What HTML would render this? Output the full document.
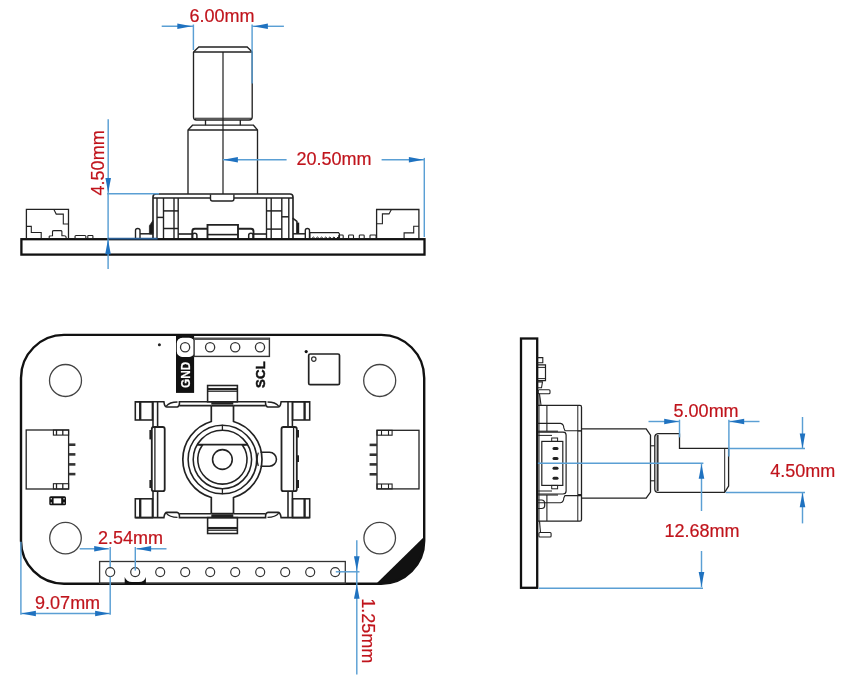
<!DOCTYPE html>
<html><head><meta charset="utf-8"><style>
html,body{margin:0;padding:0;background:#fff;}
svg{display:block;will-change:transform;}
text{font-family:"Liberation Sans", sans-serif;}
</style></head><body>
<svg width="850" height="685" viewBox="0 0 850 685">
<rect width="850" height="685" fill="#fff"/>
<path d="M193.5,52 L198.8,47 L247.2,47 L252.2,52" stroke="#222" stroke-width="1.34" fill="none"/>
<path d="M193.5,52 L193.5,117 Q193.5,120 196.5,120 L249.2,120 Q252.2,120 252.2,117 L252.2,52" stroke="#222" stroke-width="1.34" fill="none"/>
<line x1="193.5" y1="52" x2="252.2" y2="52" stroke="#222" stroke-width="1.34"/>
<line x1="195" y1="118.3" x2="251" y2="118.3" stroke="#222" stroke-width="1.12"/>
<line x1="205.5" y1="120" x2="205.5" y2="125.2" stroke="#222" stroke-width="1.34"/>
<line x1="240.3" y1="120" x2="240.3" y2="125.2" stroke="#222" stroke-width="1.34"/>
<path d="M188,194 L188,130 L192.5,125.2 L253.5,125.2 L257.5,130 L257.5,194" stroke="#222" stroke-width="1.34" fill="none"/>
<line x1="188" y1="130" x2="257.5" y2="130" stroke="#222" stroke-width="1.34"/>
<line x1="223" y1="52" x2="223" y2="194" stroke="#222" stroke-width="1.23"/>
<path d="M153,238.5 L153,197 Q153,194 156,194 L290,194 Q293,194 293,197 L293,238.5" stroke="#222" stroke-width="1.62" fill="none"/>
<line x1="153" y1="198" x2="210.5" y2="198" stroke="#222" stroke-width="1.5"/>
<line x1="233.9" y1="198" x2="293" y2="198" stroke="#222" stroke-width="1.5"/>
<path d="M210.5,194.4 L210.5,199 Q210.5,201 212.5,201 L231.9,201 Q233.9,201 233.9,199 L233.9,194.4" stroke="#222" stroke-width="1.38" fill="none"/>
<line x1="157" y1="198" x2="157" y2="238.5" stroke="#222" stroke-width="1.38"/>
<line x1="163.5" y1="198" x2="163.5" y2="238.5" stroke="#222" stroke-width="1.38"/>
<line x1="174" y1="198" x2="174" y2="238.5" stroke="#222" stroke-width="1.38"/>
<line x1="178.2" y1="198" x2="178.2" y2="238.5" stroke="#222" stroke-width="1.38"/>
<line x1="266.5" y1="198" x2="266.5" y2="238.5" stroke="#222" stroke-width="1.38"/>
<line x1="271.2" y1="198" x2="271.2" y2="238.5" stroke="#222" stroke-width="1.38"/>
<line x1="281.8" y1="198" x2="281.8" y2="238.5" stroke="#222" stroke-width="1.38"/>
<line x1="288.8" y1="198" x2="288.8" y2="238.5" stroke="#222" stroke-width="1.38"/>
<line x1="163.5" y1="210.9" x2="178.2" y2="210.9" stroke="#222" stroke-width="1.5"/>
<line x1="163.5" y1="228.5" x2="178.2" y2="228.5" stroke="#222" stroke-width="1.5"/>
<line x1="157" y1="217.4" x2="163.5" y2="217.4" stroke="#222" stroke-width="1.5"/>
<line x1="266.5" y1="210.9" x2="281.8" y2="210.9" stroke="#222" stroke-width="1.5"/>
<line x1="266.5" y1="229.1" x2="281.8" y2="229.1" stroke="#222" stroke-width="1.5"/>
<line x1="281.8" y1="216.8" x2="288.8" y2="216.8" stroke="#222" stroke-width="1.5"/>
<path d="M153,220.4 L149.4,225.7 L149.4,234 L153,234 Z" stroke="#222" stroke-width="0.75" fill="#1a1a1a"/>
<path d="M292.7,218.1 L296.9,221.3 L296.9,234" stroke="#222" stroke-width="1.5" fill="none"/>
<rect x="296.9" y="222.6" width="2.3" height="11.4" rx="0" fill="#1a1a1a"/>
<line x1="140" y1="233.8" x2="153" y2="233.8" stroke="#222" stroke-width="1.5"/>
<line x1="293" y1="233.8" x2="305.3" y2="233.8" stroke="#222" stroke-width="1.5"/>
<path d="M135.5,238.5 L135.5,230.5 Q135.5,228.5 137.7,228.5 Q140,228.5 140,230.5 L140,238.5" stroke="#222" stroke-width="1.38" fill="none"/>
<path d="M305.3,238.5 L305.3,230.5 Q305.3,228.5 307.4,228.5 Q309.5,228.5 309.5,230.5 L309.5,238.5" stroke="#222" stroke-width="1.38" fill="none"/>
<line x1="178.2" y1="234" x2="192.3" y2="234" stroke="#222" stroke-width="1.62"/>
<path d="M192.3,238.5 L192.3,231.2 Q192.3,228.7 194.8,228.7 L207.5,228.7" stroke="#222" stroke-width="1.88" fill="none"/>
<path d="M207.5,238.5 L207.5,224.9 L238,224.9 L238,238.5" stroke="#222" stroke-width="1.88" fill="none"/>
<path d="M238,228.7 L251,228.7 Q253.5,228.7 253.5,231.2 L253.5,238.5" stroke="#222" stroke-width="1.88" fill="none"/>
<line x1="207.5" y1="234.6" x2="238" y2="234.6" stroke="#222" stroke-width="1.62"/>
<path d="M192.5,238.5 L192.5,235.2 Q192.5,233.2 194.7,233.2 Q196.9,233.2 196.9,235.2 L196.9,238.5" stroke="#222" stroke-width="1.5" fill="none"/>
<path d="M248.7,238.5 L248.7,235.2 Q248.7,233.2 250.9,233.2 Q253.1,233.2 253.1,235.2 L253.1,238.5" stroke="#222" stroke-width="1.5" fill="none"/>
<line x1="253.5" y1="234" x2="266.5" y2="234" stroke="#222" stroke-width="1.62"/>
<rect x="21.4" y="239.2" width="403.1" height="15.4" rx="0" stroke="#111" stroke-width="2.3" fill="none"/>
<path d="M26.4,238.5 L26.4,209.4 L68.5,209.4 L68.5,238.5" stroke="#222" stroke-width="1.3" fill="none"/>
<path d="M53.9,209.4 L56.2,214.1 L63.3,214.1 L63.3,224 L68.5,224" stroke="#222" stroke-width="1.1" fill="none"/>
<path d="M26.4,226.4 L31.3,226.4 L31.3,232.5 L41.2,232.5 L41.2,238.5" stroke="#222" stroke-width="1.1" fill="none"/>
<path d="M49.2,238.5 L49.2,236.5 Q49.2,235.8 52,235.8 L52.5,235.8 L52.5,231.5 Q52.5,230.6 54,230.6 L60.5,230.6 Q61.9,230.6 61.9,231.5 L61.9,235.8 L64,235.8 Q66.1,235.8 66.1,237 L66.1,238.5" stroke="#222" stroke-width="1.1" fill="none"/>
<rect x="75" y="235.5" width="10.9" height="3.0" rx="1" stroke="#222" stroke-width="1.1" fill="none"/>
<rect x="87.8" y="235.5" width="5.1" height="3.0" rx="0.5" stroke="#222" stroke-width="1.1" fill="none"/>
<path d="M376.6,238.5 L376.6,209.5 L418.9,209.5 L418.9,238.5" stroke="#222" stroke-width="1.3" fill="none"/>
<path d="M391.4,209.5 L389,213.9 L382.4,213.9 L382.4,223.8 L376.6,223.8" stroke="#222" stroke-width="1.1" fill="none"/>
<path d="M418.9,226.3 L413.7,226.3 L413.7,232.9 L404.1,232.9 L404.1,238.5" stroke="#222" stroke-width="1.1" fill="none"/>
<path d="M309.9,238.5 L309.9,232.6 L338.5,232.6 L339.5,234 L339.5,238.5" stroke="#222" stroke-width="1.1" fill="none"/>
<path d="M311.8,238.5 Q313.4,235.6 315.0,238.5" stroke="#222" stroke-width="1.0" fill="none"/>
<path d="M315.9,238.5 Q317.5,235.6 319.1,238.5" stroke="#222" stroke-width="1.0" fill="none"/>
<path d="M320.0,238.5 Q321.6,235.6 323.2,238.5" stroke="#222" stroke-width="1.0" fill="none"/>
<path d="M324.1,238.5 Q325.7,235.6 327.3,238.5" stroke="#222" stroke-width="1.0" fill="none"/>
<path d="M328.2,238.5 Q329.8,235.6 331.4,238.5" stroke="#222" stroke-width="1.0" fill="none"/>
<path d="M332.3,238.5 Q333.9,235.6 335.5,238.5" stroke="#222" stroke-width="1.0" fill="none"/>
<path d="M336.4,238.5 Q338.0,235.6 339.6,238.5" stroke="#222" stroke-width="1.0" fill="none"/>
<rect x="338.7" y="235" width="4.5" height="3.5" rx="0.8" stroke="#222" stroke-width="1.1" fill="none"/>
<rect x="348.6" y="235" width="4.9" height="3.5" rx="0.8" stroke="#222" stroke-width="1.1" fill="none"/>
<rect x="359.3" y="235" width="4.9" height="3.5" rx="0.8" stroke="#222" stroke-width="1.1" fill="none"/>
<rect x="370" y="235" width="6.1" height="3.5" rx="0.8" stroke="#222" stroke-width="1.1" fill="none"/>
<line x1="161.7" y1="26.3" x2="193.4" y2="26.3" stroke="#5a9fd4" stroke-width="1.45"/>
<polygon points="177.3,23.5 191.9,26.3 177.3,29.1" fill="#1f72c0"/>
<line x1="252" y1="26.3" x2="283.9" y2="26.3" stroke="#5a9fd4" stroke-width="1.45"/>
<polygon points="267.90000000000003,23.5 253.3,26.3 267.90000000000003,29.1" fill="#1f72c0"/>
<line x1="193.4" y1="24.5" x2="193.4" y2="50" stroke="#5a9fd4" stroke-width="1.45"/>
<line x1="252.1" y1="24.5" x2="252.1" y2="83.4" stroke="#5a9fd4" stroke-width="1.45"/>
<text x="189.5" y="21.6" font-size="18" fill="#c0141c" stroke="#c0141c" stroke-width="0.2" font-weight="normal" text-anchor="start">6.00mm</text>
<line x1="108.2" y1="119.2" x2="108.2" y2="193.6" stroke="#5a9fd4" stroke-width="1.45"/>
<polygon points="105.4,178.0 108.2,192.6 111.0,178.0" fill="#1f72c0"/>
<line x1="107.2" y1="193.8" x2="159" y2="193.8" stroke="#5a9fd4" stroke-width="1.45"/>
<line x1="108.1" y1="193" x2="108.1" y2="269.1" stroke="#5a9fd4" stroke-width="1.45"/>
<polygon points="105.2,254.2 108,239.6 110.8,254.2" fill="#1f72c0"/>
<line x1="108" y1="238.6" x2="157.6" y2="238.6" stroke="#2b5f96" stroke-width="1.6"/>
<text x="104.0" y="195.4" font-size="18" fill="#c0141c" stroke="#c0141c" stroke-width="0.2" font-weight="normal" text-anchor="start" transform="rotate(-90 104.0 195.4)">4.50mm</text>
<line x1="222.8" y1="159.8" x2="286.6" y2="159.8" stroke="#5a9fd4" stroke-width="1.45"/>
<polygon points="237.9,157.0 223.3,159.8 237.9,162.60000000000002" fill="#1f72c0"/>
<line x1="381.6" y1="159.8" x2="424" y2="159.8" stroke="#5a9fd4" stroke-width="1.45"/>
<polygon points="408.9,157.0 423.5,159.8 408.9,162.60000000000002" fill="#1f72c0"/>
<line x1="424.3" y1="157.9" x2="424.3" y2="237" stroke="#5a9fd4" stroke-width="1.45"/>
<text x="296.4" y="165.4" font-size="18" fill="#c0141c" stroke="#c0141c" stroke-width="0.2" font-weight="normal" text-anchor="start">20.50mm</text>
<path d="M376.5,583.4 L381.2,583.4 A43,43 0 0 0 424.2,540.4 L424.2,536.7 Z" fill="#111"/>
<rect x="21" y="334.9" width="403.2" height="248.9" rx="43" stroke="#111" stroke-width="2.4" fill="none"/>
<circle cx="65.5" cy="380.5" r="16" stroke="#444" stroke-width="1.3" fill="none"/>
<circle cx="379.7" cy="380.5" r="16" stroke="#444" stroke-width="1.3" fill="none"/>
<circle cx="65.5" cy="538.1" r="15.8" stroke="#444" stroke-width="1.3" fill="none"/>
<circle cx="379.7" cy="538.1" r="15.8" stroke="#444" stroke-width="1.3" fill="none"/>
<rect x="176" y="334.9" width="18.1" height="58.0" rx="0" fill="#111"/>
<rect x="177.4" y="338.3" width="16.7" height="18.1" rx="5" stroke="#fff" stroke-width="1.2" fill="#fff"/>
<circle cx="185.1" cy="347.2" r="4.6" stroke="#333" stroke-width="1.3" fill="none"/>
<rect x="194.1" y="338.3" width="75.3" height="18.1" rx="0" stroke="#333" stroke-width="1.4" fill="none"/>
<line x1="194.1" y1="339" x2="269.4" y2="339" stroke="#555" stroke-width="2.0"/>
<circle cx="210.1" cy="347.2" r="4.6" stroke="#333" stroke-width="1.3" fill="none"/>
<circle cx="235.2" cy="347.2" r="4.6" stroke="#333" stroke-width="1.3" fill="none"/>
<circle cx="260.0" cy="347.2" r="4.6" stroke="#333" stroke-width="1.3" fill="none"/>
<circle cx="159.4" cy="344.8" r="1.5" stroke="#222" stroke-width="0.0" fill="#222"/>
<text x="190.4" y="387.9" font-size="13.4" fill="#fff" stroke="#fff" stroke-width="0.2" font-weight="bold" text-anchor="start" transform="rotate(-90 190.4 387.9)" textLength="26.2" lengthAdjust="spacingAndGlyphs">GND</text>
<text x="265.2" y="387.9" font-size="13.6" fill="#111" stroke="#111" stroke-width="0.5" font-weight="bold" text-anchor="start" transform="rotate(-90 265.2 387.9)" textLength="26.4" lengthAdjust="spacingAndGlyphs">SCL</text>
<rect x="308.7" y="354" width="30.8" height="30.7" rx="1.5" stroke="#222" stroke-width="1.7" fill="none"/>
<circle cx="313.8" cy="359.1" r="2.2" stroke="#333" stroke-width="1.2" fill="none"/>
<circle cx="306.2" cy="351.6" r="1.6" stroke="#222" stroke-width="0.0" fill="#111"/>
<rect x="26.2" y="430" width="42.4" height="59" rx="0" stroke="#222" stroke-width="1.3" fill="none"/>
<rect x="53.4" y="430" width="15.2" height="5.1" rx="0" stroke="#222" stroke-width="1.1" fill="none"/>
<line x1="56.5" y1="430" x2="56.5" y2="435.1" stroke="#222" stroke-width="1.3"/>
<line x1="62.8" y1="430" x2="62.8" y2="435.1" stroke="#222" stroke-width="1.3"/>
<rect x="53.4" y="483.7" width="15.2" height="5.3" rx="0" stroke="#222" stroke-width="1.1" fill="none"/>
<line x1="56.5" y1="483.7" x2="56.5" y2="489" stroke="#222" stroke-width="1.3"/>
<line x1="62.8" y1="483.7" x2="62.8" y2="489" stroke="#222" stroke-width="1.3"/>
<line x1="68.6" y1="444.7" x2="75.4" y2="444.7" stroke="#333" stroke-width="2.6"/>
<line x1="68.6" y1="454.4" x2="75.4" y2="454.4" stroke="#333" stroke-width="2.6"/>
<line x1="68.6" y1="464.4" x2="75.4" y2="464.4" stroke="#333" stroke-width="2.6"/>
<line x1="68.6" y1="474.1" x2="75.4" y2="474.1" stroke="#333" stroke-width="2.6"/>
<rect x="49.3" y="496.3" width="16.7" height="9.0" rx="1.5" fill="#111"/>
<rect x="53.6" y="498.3" width="7.6" height="5.2" rx="0" fill="#fff"/>
<circle cx="51.3" cy="498.7" r="0.8" stroke="#222" stroke-width="0.0" fill="#ddd"/>
<circle cx="51.3" cy="503" r="0.8" stroke="#222" stroke-width="0.0" fill="#ddd"/>
<circle cx="64" cy="498.7" r="0.8" stroke="#222" stroke-width="0.0" fill="#ddd"/>
<circle cx="64" cy="503" r="0.8" stroke="#222" stroke-width="0.0" fill="#ddd"/>
<rect x="377" y="430.3" width="42" height="58.6" rx="0" stroke="#222" stroke-width="1.3" fill="none"/>
<rect x="377" y="430.3" width="15.1" height="4.9" rx="0" stroke="#222" stroke-width="1.1" fill="none"/>
<line x1="381.5" y1="430.3" x2="381.5" y2="435.2" stroke="#222" stroke-width="1.1"/>
<line x1="388.5" y1="430.3" x2="388.5" y2="435.2" stroke="#222" stroke-width="1.1"/>
<rect x="377" y="484" width="15.1" height="4.9" rx="0" stroke="#222" stroke-width="1.1" fill="none"/>
<line x1="381.5" y1="484" x2="381.5" y2="488.9" stroke="#222" stroke-width="1.1"/>
<line x1="388.5" y1="484" x2="388.5" y2="488.9" stroke="#222" stroke-width="1.1"/>
<line x1="369.6" y1="444.9" x2="377" y2="444.9" stroke="#333" stroke-width="2.6"/>
<line x1="369.6" y1="454.7" x2="377" y2="454.7" stroke="#333" stroke-width="2.6"/>
<line x1="369.6" y1="464.4" x2="377" y2="464.4" stroke="#333" stroke-width="2.6"/>
<line x1="369.6" y1="474.3" x2="377" y2="474.3" stroke="#333" stroke-width="2.6"/>
<rect x="99.6" y="561.5" width="245.7" height="21.9" rx="0" stroke="#333" stroke-width="1.3" fill="none"/>
<circle cx="110.2" cy="572.1" r="4.5" stroke="#333" stroke-width="1.2" fill="none"/>
<circle cx="135.2" cy="572.1" r="4.5" stroke="#333" stroke-width="1.2" fill="none"/>
<circle cx="160.2" cy="572.1" r="4.5" stroke="#333" stroke-width="1.2" fill="none"/>
<circle cx="185.2" cy="572.1" r="4.5" stroke="#333" stroke-width="1.2" fill="none"/>
<circle cx="210.2" cy="572.1" r="4.5" stroke="#333" stroke-width="1.2" fill="none"/>
<circle cx="235.2" cy="572.1" r="4.5" stroke="#333" stroke-width="1.2" fill="none"/>
<circle cx="260.2" cy="572.1" r="4.5" stroke="#333" stroke-width="1.2" fill="none"/>
<circle cx="285.2" cy="572.1" r="4.5" stroke="#333" stroke-width="1.2" fill="none"/>
<circle cx="310.2" cy="572.1" r="4.5" stroke="#333" stroke-width="1.2" fill="none"/>
<circle cx="335.2" cy="572.1" r="4.5" stroke="#333" stroke-width="1.2" fill="none"/>
<path d="M124.7,577 Q126.5,582 132,582 L139,582 Q144.5,582 145.9,577 L145.9,584 L124.7,584 Z" fill="#111"/>
<rect x="207.6" y="385.5" width="29.8" height="16.3" rx="0" stroke="#222" stroke-width="1.56" fill="none"/>
<line x1="207.6" y1="389" x2="237.4" y2="389" stroke="#222" stroke-width="2.08"/>
<line x1="207.6" y1="391.2" x2="237.4" y2="391.2" stroke="#222" stroke-width="1.3"/>
<rect x="207.6" y="517.6" width="29.8" height="15.9" rx="0" stroke="#222" stroke-width="1.56" fill="none"/>
<line x1="207.6" y1="528" x2="237.4" y2="528" stroke="#222" stroke-width="2.08"/>
<line x1="207.6" y1="530.2" x2="237.4" y2="530.2" stroke="#222" stroke-width="1.3"/>
<path d="M135.3,401.8 L163.9,401.8 Q164.6,407.0 167,407.0 L177.3,407.0 Q179.4,406.40000000000003 179.4,403.8 L179.4,401.8 L265.6,401.8 L265.6,403.8 Q265.6,406.40000000000003 267.7,407.0 L278,407.0 Q280.4,407.0 281.1,401.8 L309.7,401.8" stroke="#222" stroke-width="1.56" fill="none"/>
<path d="M166.3,406.2 Q169.5,402.0 177.5,402.0" stroke="#222" stroke-width="1.3" fill="none"/>
<path d="M278.7,406.2 Q275.5,402.0 267.5,402.0" stroke="#222" stroke-width="1.3" fill="none"/>
<line x1="179.4" y1="405.6" x2="211.3" y2="405.6" stroke="#222" stroke-width="1.56"/>
<line x1="233.3" y1="405.6" x2="265.6" y2="405.6" stroke="#222" stroke-width="1.56"/>
<line x1="211.3" y1="403.3" x2="233.3" y2="403.3" stroke="#222" stroke-width="2.34"/>
<line x1="211.3" y1="405.6" x2="233.3" y2="405.6" stroke="#222" stroke-width="2.08"/>
<path d="M135.3,517.6 L163.9,517.6 Q164.6,512.4 167,512.4 L177.3,512.4 Q179.4,513.0 179.4,515.6 L179.4,517.6 L265.6,517.6 L265.6,515.6 Q265.6,513.0 267.7,512.4 L278,512.4 Q280.4,512.4 281.1,517.6 L309.7,517.6" stroke="#222" stroke-width="1.56" fill="none"/>
<path d="M166.3,513.2 Q169.5,517.4 177.5,517.4" stroke="#222" stroke-width="1.3" fill="none"/>
<path d="M278.7,513.2 Q275.5,517.4 267.5,517.4" stroke="#222" stroke-width="1.3" fill="none"/>
<line x1="179.4" y1="513.8" x2="211.3" y2="513.8" stroke="#222" stroke-width="1.56"/>
<line x1="233.3" y1="513.8" x2="265.6" y2="513.8" stroke="#222" stroke-width="1.56"/>
<line x1="211.3" y1="516.1" x2="233.3" y2="516.1" stroke="#222" stroke-width="2.34"/>
<line x1="211.3" y1="513.8" x2="233.3" y2="513.8" stroke="#222" stroke-width="2.08"/>
<rect x="135.3" y="401.8" width="17.1" height="18.2" rx="0" stroke="#222" stroke-width="1.56" fill="none"/>
<line x1="140.2" y1="401.8" x2="140.2" y2="420" stroke="#222" stroke-width="2.34"/>
<rect x="292.6" y="401.8" width="17.1" height="18.2" rx="0" stroke="#222" stroke-width="1.56" fill="none"/>
<line x1="304.6" y1="401.8" x2="304.6" y2="420" stroke="#222" stroke-width="2.34"/>
<rect x="135.3" y="498.8" width="17.1" height="18.8" rx="0" stroke="#222" stroke-width="1.56" fill="none"/>
<line x1="140.2" y1="498.8" x2="140.2" y2="517.6" stroke="#222" stroke-width="2.34"/>
<rect x="292.6" y="498.8" width="17.1" height="18.8" rx="0" stroke="#222" stroke-width="1.56" fill="none"/>
<line x1="304.6" y1="498.8" x2="304.6" y2="517.6" stroke="#222" stroke-width="2.34"/>
<line x1="153" y1="401.8" x2="153" y2="427" stroke="#222" stroke-width="1.56"/>
<line x1="157.6" y1="401.8" x2="157.6" y2="427" stroke="#222" stroke-width="1.56"/>
<line x1="288" y1="401.8" x2="288" y2="427" stroke="#222" stroke-width="1.56"/>
<line x1="292.4" y1="401.8" x2="292.4" y2="427" stroke="#222" stroke-width="1.56"/>
<line x1="153" y1="491.2" x2="153" y2="517.6" stroke="#222" stroke-width="1.56"/>
<line x1="157.6" y1="491.2" x2="157.6" y2="517.6" stroke="#222" stroke-width="1.56"/>
<line x1="288" y1="491.2" x2="288" y2="517.6" stroke="#222" stroke-width="1.56"/>
<line x1="292.4" y1="491.2" x2="292.4" y2="517.6" stroke="#222" stroke-width="1.56"/>
<rect x="151.8" y="427" width="12.9" height="64.2" rx="2" stroke="#222" stroke-width="1.82" fill="none"/>
<line x1="154.9" y1="427" x2="154.9" y2="491.2" stroke="#222" stroke-width="1.3"/>
<rect x="149.4" y="430" width="2.4" height="9.4" rx="0" fill="#222"/>
<rect x="149.4" y="480" width="2.4" height="8" rx="0" fill="#222"/>
<rect x="281.5" y="427" width="15.3" height="64.2" rx="2" stroke="#222" stroke-width="1.82" fill="none"/>
<line x1="293.6" y1="427" x2="293.6" y2="491.2" stroke="#222" stroke-width="1.3"/>
<rect x="296.8" y="430" width="2.2" height="7.5" rx="0" fill="#222"/>
<rect x="296.8" y="455.3" width="2.2" height="6.7" rx="0" fill="#222"/>
<rect x="296.8" y="480" width="2.2" height="8" rx="0" fill="#222"/>
<path d="M211.3,405.6 L211.3,421.49 A39.6,39.6 0 0 0 211.3,497.51 L211.3,513.8" stroke="#222" stroke-width="1.69" fill="none"/>
<path d="M233.5,405.6 L233.5,421.49 A39.6,39.6 0 0 1 233.5,497.51 L233.5,513.8" stroke="#222" stroke-width="1.69" fill="none"/>
<circle cx="222.4" cy="459.5" r="34.3" stroke="#222" stroke-width="1.56" fill="none"/>
<circle cx="222.4" cy="459.5" r="29.2" stroke="#222" stroke-width="1.56" fill="none"/>
<line x1="197.28765243948706" y1="444.6" x2="247.51234756051295" y2="444.6" stroke="#222" stroke-width="1.69"/>
<path d="M197.29,444.6 L202.31,445.3 A24.6,24.6 0 1 0 242.49,445.3 L247.51,444.6" stroke="#222" stroke-width="1.56" fill="none"/>
<circle cx="222.4" cy="459.5" r="9.85" stroke="#222" stroke-width="1.56" fill="none"/>
<line x1="222.4" y1="424.8" x2="222.4" y2="430" stroke="#222" stroke-width="1.3"/>
<line x1="222.4" y1="489" x2="222.4" y2="494.2" stroke="#222" stroke-width="1.3"/>
<path d="M260.5,452.3 L269.5,452.3 A6.95,6.95 0 0 1 269.5,466.2 L260.5,466.2" stroke="#222" stroke-width="1.56" fill="none"/>
<path d="M258.3,452.6 Q256,459.3 258.3,466" stroke="#222" stroke-width="1.3" fill="none"/>
<text x="98" y="544.1" font-size="18" fill="#c0141c" stroke="#c0141c" stroke-width="0.2" font-weight="normal" text-anchor="start">2.54mm</text>
<line x1="79.7" y1="548.8" x2="108.8" y2="548.8" stroke="#5a9fd4" stroke-width="1.45"/>
<polygon points="94.2,546.0 108.8,548.8 94.2,551.5999999999999" fill="#1f72c0"/>
<line x1="136.5" y1="548.8" x2="166.5" y2="548.8" stroke="#5a9fd4" stroke-width="1.45"/>
<polygon points="151.1,546.0 136.5,548.8 151.1,551.5999999999999" fill="#1f72c0"/>
<line x1="110.2" y1="547" x2="110.2" y2="567" stroke="#5a9fd4" stroke-width="1.45"/>
<line x1="110.2" y1="576.5" x2="110.2" y2="614.8" stroke="#5a9fd4" stroke-width="1.45"/>
<line x1="135.3" y1="547" x2="135.3" y2="570.6" stroke="#5a9fd4" stroke-width="1.45"/>
<text x="35.1" y="609.1" font-size="18" fill="#c0141c" stroke="#c0141c" stroke-width="0.2" font-weight="normal" text-anchor="start">9.07mm</text>
<line x1="21" y1="613.5" x2="110" y2="613.5" stroke="#5a9fd4" stroke-width="1.45"/>
<polygon points="35.9,610.7 21.3,613.5 35.9,616.3" fill="#1f72c0"/>
<polygon points="95.10000000000001,610.7 109.7,613.5 95.10000000000001,616.3" fill="#1f72c0"/>
<line x1="20.9" y1="541.8" x2="20.9" y2="614.8" stroke="#5a9fd4" stroke-width="1.45"/>
<line x1="356.8" y1="540.3" x2="356.8" y2="674.6" stroke="#5a9fd4" stroke-width="1.45"/>
<polygon points="354.0,556.1999999999999 356.8,570.8 359.6,556.1999999999999" fill="#1f72c0"/>
<polygon points="354.0,598.8000000000001 356.8,584.2 359.6,598.8000000000001" fill="#1f72c0"/>
<line x1="335.8" y1="571.8" x2="359.5" y2="571.8" stroke="#5a9fd4" stroke-width="1.45"/>
<text x="361.8" y="598.2" font-size="18" fill="#c0141c" stroke="#c0141c" stroke-width="0.2" font-weight="normal" text-anchor="start" transform="rotate(90 361.8 598.2)">1.25mm</text>
<rect x="521" y="338.5" width="16.2" height="249.3" rx="0" stroke="#111" stroke-width="2.3" fill="none"/>
<path d="M537.5,357.6 L542.8,357.6 L542.8,362.8 L537.5,362.8" stroke="#222" stroke-width="1.1" fill="none"/>
<path d="M537.5,364.8 L545.5,364.8 L545.5,380.6 L537.5,380.6" stroke="#222" stroke-width="1.2" fill="none"/>
<line x1="538" y1="367.4" x2="545.5" y2="367.4" stroke="#222" stroke-width="1.0"/>
<line x1="538" y1="378.6" x2="545.5" y2="378.6" stroke="#222" stroke-width="1.0"/>
<path d="M537.5,381.9 L542.5,381.9 L541.5,387.8 L537.5,387.8" stroke="#222" stroke-width="1.1" fill="none"/>
<rect x="538.2" y="389.8" width="11.8" height="3.9" rx="1" stroke="#222" stroke-width="1.1" fill="none"/>
<path d="M539.5,393.7 L541,405.3" stroke="#222" stroke-width="1.1" fill="none"/>
<path d="M537.2,405.3 L580,405.3 Q581.5,405.3 581.5,407 L581.5,519.5 Q581.5,521.1 580,521.1 L537.2,521.1" stroke="#222" stroke-width="1.3" fill="none"/>
<line x1="539" y1="393.7" x2="539" y2="521.1" stroke="#222" stroke-width="1.0"/>
<line x1="546.9" y1="405.3" x2="546.9" y2="431.2" stroke="#222" stroke-width="1.1"/>
<line x1="546.9" y1="495" x2="546.9" y2="521.1" stroke="#222" stroke-width="1.1"/>
<line x1="577.8" y1="405.3" x2="577.8" y2="521.1" stroke="#222" stroke-width="1.0"/>
<path d="M537.4,423.4 L560.5,423.4 Q563.8,424 563.8,428 L565,430.8 L581.5,430.8" stroke="#222" stroke-width="1.1" fill="none"/>
<line x1="538.2" y1="431.2" x2="558" y2="431.2" stroke="#222" stroke-width="1.1"/>
<line x1="538.2" y1="435.4" x2="552" y2="435.4" stroke="#222" stroke-width="1.0"/>
<path d="M537.4,502.8 L560.5,502.8 Q563.8,502 563.8,498 L565,495.6 L581.5,495.6" stroke="#222" stroke-width="1.1" fill="none"/>
<line x1="538.2" y1="495" x2="558" y2="495" stroke="#222" stroke-width="1.1"/>
<line x1="538.2" y1="491" x2="552" y2="491" stroke="#222" stroke-width="1.0"/>
<path d="M537.9,432.2 L563,432.2 Q566.1,432.2 566.1,435 L566.1,491 Q566.1,494 563,494 L537.9,494" stroke="#222" stroke-width="1.2" fill="none"/>
<rect x="541.8" y="441.4" width="21.0" height="44.0" rx="0" stroke="#222" stroke-width="1.2" fill="none"/>
<rect x="551.7" y="438" width="5.9" height="3.4" rx="0" stroke="#222" stroke-width="1.0" fill="none"/>
<rect x="551.7" y="485.4" width="5.9" height="3.4" rx="0" stroke="#222" stroke-width="1.0" fill="none"/>
<line x1="554" y1="448.6" x2="557" y2="448.6" stroke="#222" stroke-width="3" stroke-linecap="round"/>
<line x1="554" y1="458.5" x2="557" y2="458.5" stroke="#222" stroke-width="3" stroke-linecap="round"/>
<line x1="554" y1="468.3" x2="557" y2="468.3" stroke="#222" stroke-width="3" stroke-linecap="round"/>
<line x1="554" y1="478.2" x2="557" y2="478.2" stroke="#222" stroke-width="3" stroke-linecap="round"/>
<path d="M539.5,521.1 L540.5,532.5" stroke="#222" stroke-width="1.1" fill="none"/>
<rect x="538.9" y="532.5" width="12.2" height="4.5" rx="1" stroke="#222" stroke-width="1.1" fill="none"/>
<path d="M537.5,500 L541.5,500 Q544.7,500 544.7,503.5 L544.7,505.5 Q544.7,508.5 541.5,508.5 L537.5,508.5" stroke="#222" stroke-width="1.2" fill="none"/>
<path d="M581.6,428.9 L646.2,428.9 L650.5,435.2 L650.5,492 L646.2,498.1 L581.6,498.1" stroke="#222" stroke-width="1.3" fill="none"/>
<line x1="578" y1="431" x2="581.5" y2="431" stroke="#222" stroke-width="1.0"/>
<line x1="578" y1="494.5" x2="581.5" y2="494.5" stroke="#222" stroke-width="1.0"/>
<line x1="650.5" y1="445.8" x2="654.7" y2="445.8" stroke="#222" stroke-width="1.1"/>
<line x1="650.5" y1="480.8" x2="654.7" y2="480.8" stroke="#222" stroke-width="1.1"/>
<path d="M679.5,433.6 L658,433.6 Q654.8,434 654.8,437 L654.8,489 Q654.8,492.4 658,492.4 L724.7,492.4 L728.6,486 L728.6,448.4 L679.5,448.4 L679.5,433.6" stroke="#222" stroke-width="1.3" fill="none"/>
<line x1="657.6" y1="435" x2="657.6" y2="491" stroke="#333" stroke-width="2.0"/>
<line x1="724.7" y1="449" x2="724.7" y2="492" stroke="#222" stroke-width="1.0"/>
<text x="673.6" y="416.9" font-size="18" fill="#c0141c" stroke="#c0141c" stroke-width="0.2" font-weight="normal" text-anchor="start">5.00mm</text>
<line x1="648.5" y1="421.5" x2="679.5" y2="421.5" stroke="#5a9fd4" stroke-width="1.45"/>
<polygon points="664.1999999999999,418.7 678.8,421.5 664.1999999999999,424.3" fill="#1f72c0"/>
<line x1="729" y1="421.5" x2="759.5" y2="421.5" stroke="#5a9fd4" stroke-width="1.45"/>
<polygon points="744.2,418.7 729.6,421.5 744.2,424.3" fill="#1f72c0"/>
<line x1="679.5" y1="419.7" x2="679.5" y2="437.4" stroke="#5a9fd4" stroke-width="1.45"/>
<line x1="728.9" y1="419.7" x2="728.9" y2="456.4" stroke="#5a9fd4" stroke-width="1.45"/>
<line x1="728.9" y1="448.4" x2="805" y2="448.4" stroke="#5a9fd4" stroke-width="1.45"/>
<line x1="725.8" y1="492.4" x2="805" y2="492.4" stroke="#5a9fd4" stroke-width="1.45"/>
<text x="770.3" y="477.4" font-size="18" fill="#c0141c" stroke="#c0141c" stroke-width="0.2" font-weight="normal" text-anchor="start">4.50mm</text>
<line x1="802.5" y1="417" x2="802.5" y2="448.2" stroke="#5a9fd4" stroke-width="1.45"/>
<polygon points="799.7,433.59999999999997 802.5,448.2 805.3,433.59999999999997" fill="#1f72c0"/>
<line x1="802.5" y1="492.7" x2="802.5" y2="523.4" stroke="#5a9fd4" stroke-width="1.45"/>
<polygon points="799.7,507.3 802.5,492.7 805.3,507.3" fill="#1f72c0"/>
<line x1="537.9" y1="463.3" x2="703.4" y2="463.3" stroke="#5a9fd4" stroke-width="1.45"/>
<line x1="701.5" y1="463.6" x2="701.5" y2="511" stroke="#5a9fd4" stroke-width="1.45"/>
<polygon points="698.7,478.8 701.5,464.2 704.3,478.8" fill="#1f72c0"/>
<text x="664.5" y="537.1" font-size="18" fill="#c0141c" stroke="#c0141c" stroke-width="0.2" font-weight="normal" text-anchor="start">12.68mm</text>
<line x1="701.5" y1="551" x2="701.5" y2="587.2" stroke="#5a9fd4" stroke-width="1.45"/>
<polygon points="698.7,571.9 701.5,586.5 704.3,571.9" fill="#1f72c0"/>
<line x1="538.9" y1="588.2" x2="703" y2="588.2" stroke="#5a9fd4" stroke-width="1.45"/>
</svg>
</body></html>
